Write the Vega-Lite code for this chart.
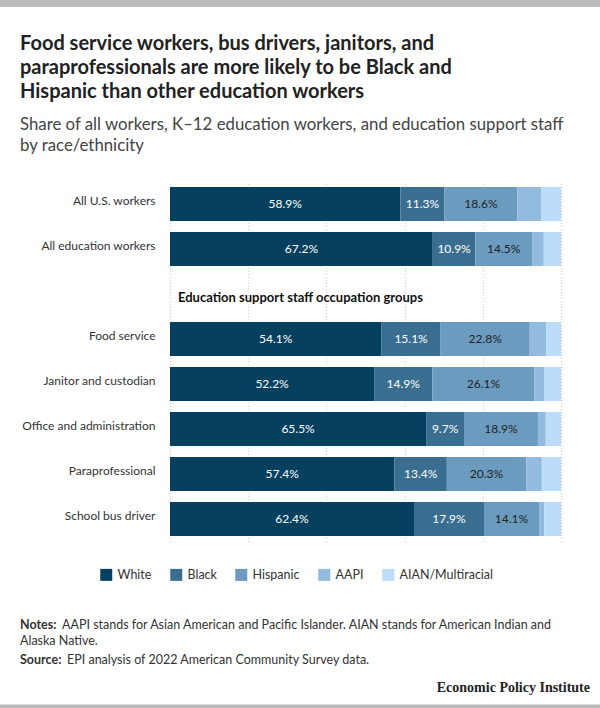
{
  "$schema": "https://vega.github.io/schema/vega-lite/v6.json",
  "autosize": {"type": "none"},
  "width": 391,
  "height": 360,
  "padding": {"left": 170, "top": 181.5, "right": 39, "bottom": 166.5},
  "background": "white",
  "config": {
    "font": "Lato",
    "view": {"stroke": null},
    "text": {"font": "Lato"}
  },
  "title": {
    "text": ["Food service workers, bus drivers, janitors, and", "paraprofessionals are more likely to be Black and", "Hispanic than other education workers"],
    "subtitle": ["Share of all workers, K–12 education workers, and education support staff", "by race/ethnicity"],
    "anchor": "start",
    "frame": "group",
    "dx": -150,
    "offset": -154.5,
    "font": "Lato",
    "fontSize": 20,
    "fontWeight": "bold",
    "lineHeight": 24,
    "color": "#222222",
    "subtitleFont": "Lato",
    "subtitleFontSize": 16.8,
    "subtitleLineHeight": 21,
    "subtitleColor": "#444444",
    "subtitlePadding": 15
  },
  "datasets": {
    "shares": [
      {"group": "All U.S. workers", "race": "White", "value": 0.589},
      {"group": "All U.S. workers", "race": "Black", "value": 0.113},
      {"group": "All U.S. workers", "race": "Hispanic", "value": 0.186},
      {"group": "All U.S. workers", "race": "AAPI", "value": 0.061},
      {"group": "All U.S. workers", "race": "AIAN/Multiracial", "value": 0.051},
      {"group": "All education workers", "race": "White", "value": 0.672},
      {"group": "All education workers", "race": "Black", "value": 0.109},
      {"group": "All education workers", "race": "Hispanic", "value": 0.145},
      {"group": "All education workers", "race": "AAPI", "value": 0.030},
      {"group": "All education workers", "race": "AIAN/Multiracial", "value": 0.044},
      {"group": "Food service", "race": "White", "value": 0.541},
      {"group": "Food service", "race": "Black", "value": 0.151},
      {"group": "Food service", "race": "Hispanic", "value": 0.228},
      {"group": "Food service", "race": "AAPI", "value": 0.042},
      {"group": "Food service", "race": "AIAN/Multiracial", "value": 0.038},
      {"group": "Janitor and custodian", "race": "White", "value": 0.522},
      {"group": "Janitor and custodian", "race": "Black", "value": 0.149},
      {"group": "Janitor and custodian", "race": "Hispanic", "value": 0.261},
      {"group": "Janitor and custodian", "race": "AAPI", "value": 0.026},
      {"group": "Janitor and custodian", "race": "AIAN/Multiracial", "value": 0.042},
      {"group": "Office and administration", "race": "White", "value": 0.655},
      {"group": "Office and administration", "race": "Black", "value": 0.097},
      {"group": "Office and administration", "race": "Hispanic", "value": 0.189},
      {"group": "Office and administration", "race": "AAPI", "value": 0.020},
      {"group": "Office and administration", "race": "AIAN/Multiracial", "value": 0.039},
      {"group": "Paraprofessional", "race": "White", "value": 0.574},
      {"group": "Paraprofessional", "race": "Black", "value": 0.134},
      {"group": "Paraprofessional", "race": "Hispanic", "value": 0.203},
      {"group": "Paraprofessional", "race": "AAPI", "value": 0.040},
      {"group": "Paraprofessional", "race": "AIAN/Multiracial", "value": 0.049},
      {"group": "School bus driver", "race": "White", "value": 0.624},
      {"group": "School bus driver", "race": "Black", "value": 0.179},
      {"group": "School bus driver", "race": "Hispanic", "value": 0.141},
      {"group": "School bus driver", "race": "AAPI", "value": 0.013},
      {"group": "School bus driver", "race": "AIAN/Multiracial", "value": 0.043}
    ],
    "raceOrder": [
      {"race": "White", "rank": 1},
      {"race": "Black", "rank": 2},
      {"race": "Hispanic", "rank": 3},
      {"race": "AAPI", "rank": 4},
      {"race": "AIAN/Multiracial", "rank": 5}
    ],
    "header": [
      {"group": "Education support staff occupation groups", "label": "Education support staff occupation groups"}
    ],
    "blank": [{"id": 1}]
  },
  "layer": [
    {
      "data": {"name": "shares"},
      "transform": [
        {"lookup": "race", "from": {"data": {"name": "raceOrder"}, "key": "race", "fields": ["rank"]}}
      ],
      "mark": {"type": "bar"},
      "encoding": {
        "y": {
          "field": "group",
          "type": "nominal",
          "scale": {
            "domain": ["All U.S. workers", "All education workers", "Education support staff occupation groups", "Food service", "Janitor and custodian", "Office and administration", "Paraprofessional", "School bus driver"],
            "paddingInner": 0.245,
            "paddingOuter": 0.1225
          },
          "axis": {
            "title": null,
            "domain": false,
            "ticks": false,
            "labelPadding": 15,
            "labelFontSize": 12,
            "labelColor": "#333333",
            "labelFont": "Lato",
            "labelLimit": 200,
            "labelBaseline": "middle",
            "labelOffset": -3,
            "labelExpr": "datum.value == 'Education support staff occupation groups' ? '' : datum.value"
          }
        },
        "x": {
          "field": "value",
          "type": "quantitative",
          "stack": "zero",
          "scale": {"domain": [0, 1], "nice": false},
          "axis": {
            "title": null,
            "labels": false,
            "ticks": false,
            "domain": false,
            "grid": true,
            "values": [0, 0.2, 0.4, 0.6, 0.8, 1],
            "gridColor": "#cccccc",
            "gridDash": [1, 2],
            "gridWidth": 1
          }
        },
        "order": {"field": "rank", "type": "quantitative", "sort": "ascending"},
        "color": {
          "field": "race",
          "type": "nominal",
          "sort": ["White", "Black", "Hispanic", "AAPI", "AIAN/Multiracial"],
          "scale": {
            "domain": ["White", "Black", "Hispanic", "AAPI", "AIAN/Multiracial"],
            "range": ["#05405f", "#3a6e91", "#6b9cc0", "#93bbdf", "#bcdcfb"]
          },
          "legend": {
            "title": null,
            "orient": "none",
            "legendX": -70,
            "legendY": 387,
            "direction": "horizontal",
            "symbolType": "square",
            "symbolSize": 144,
            "symbolStrokeWidth": 0,
            "labelFontSize": 12.5,
            "labelFont": "Lato",
            "labelColor": "#333333",
            "labelOffset": 5,
            "columnPadding": 18,
            "padding": 0
          }
        }
      }
    },
    {
      "data": {"name": "shares"},
      "transform": [
        {"lookup": "race", "from": {"data": {"name": "raceOrder"}, "key": "race", "fields": ["rank"]}},
        {"filter": "datum.rank <= 3"}
      ],
      "mark": {"type": "text", "fontSize": 12, "font": "Lato", "baseline": "middle", "align": "center"},
      "encoding": {
        "y": {"field": "group", "type": "nominal"},
        "x": {"field": "value", "type": "quantitative", "stack": "zero", "bandPosition": 0.5},
        "detail": {"field": "race"},
        "order": {"field": "rank", "type": "quantitative", "sort": "ascending"},
        "text": {"field": "value", "type": "quantitative", "format": ".1%"},
        "color": {
          "condition": {"test": "datum.race == 'Hispanic'", "value": "#222222"},
          "value": "#ffffff"
        }
      }
    },
    {
      "data": {"name": "header"},
      "mark": {"type": "text", "align": "left", "baseline": "middle", "dx": 8, "dy": 4, "fontSize": 13, "fontWeight": "bold", "font": "Lato", "color": "#111111"},
      "encoding": {
        "y": {"field": "group", "type": "nominal"},
        "x": {"datum": 0, "type": "quantitative"},
        "text": {"field": "label"}
      }
    },
    {
      "data": {"name": "blank"},
      "mark": {"type": "rect", "color": "#bbbbbb"},
      "encoding": {
        "x": {"value": -170},
        "x2": {"value": 430},
        "y": {"value": -181.5},
        "y2": {"value": -174.5}
      }
    },
    {
      "data": {"name": "blank"},
      "mark": {"type": "rect", "color": "#bbbbbb"},
      "encoding": {
        "x": {"value": -170},
        "x2": {"value": 430},
        "y": {"value": 523},
        "y2": {"value": 526.5}
      }
    },
    {
      "data": {"name": "blank"},
      "mark": {"type": "text", "align": "left", "baseline": "middle", "fontSize": 12.5, "fontWeight": "bold", "font": "Lato", "color": "#333333", "text": "Notes:"},
      "encoding": {"x": {"value": -150}, "y": {"value": 443.5}}
    },
    {
      "data": {"name": "blank"},
      "mark": {"type": "text", "align": "left", "baseline": "middle", "fontSize": 12.5, "font": "Lato", "color": "#333333", "text": "AAPI stands for Asian American and Pacific Islander. AIAN stands for American Indian and"},
      "encoding": {"x": {"value": -108}, "y": {"value": 443.5}}
    },
    {
      "data": {"name": "blank"},
      "mark": {"type": "text", "align": "left", "baseline": "middle", "fontSize": 12.5, "font": "Lato", "color": "#333333", "text": "Alaska Native."},
      "encoding": {"x": {"value": -150}, "y": {"value": 459.5}}
    },
    {
      "data": {"name": "blank"},
      "mark": {"type": "text", "align": "left", "baseline": "middle", "fontSize": 12.5, "fontWeight": "bold", "font": "Lato", "color": "#333333", "text": "Source:"},
      "encoding": {"x": {"value": -150}, "y": {"value": 478.5}}
    },
    {
      "data": {"name": "blank"},
      "mark": {"type": "text", "align": "left", "baseline": "middle", "fontSize": 12.5, "font": "Lato", "color": "#333333", "text": "EPI analysis of 2022 American Community Survey data."},
      "encoding": {"x": {"value": -103}, "y": {"value": 478.5}}
    },
    {
      "data": {"name": "blank"},
      "mark": {"type": "text", "align": "right", "baseline": "middle", "fontSize": 14, "fontWeight": "bold", "font": "Liberation Serif", "color": "#222222", "text": "Economic Policy Institute"},
      "encoding": {"x": {"value": 420}, "y": {"value": 506.5}}
    }
  ]
}
